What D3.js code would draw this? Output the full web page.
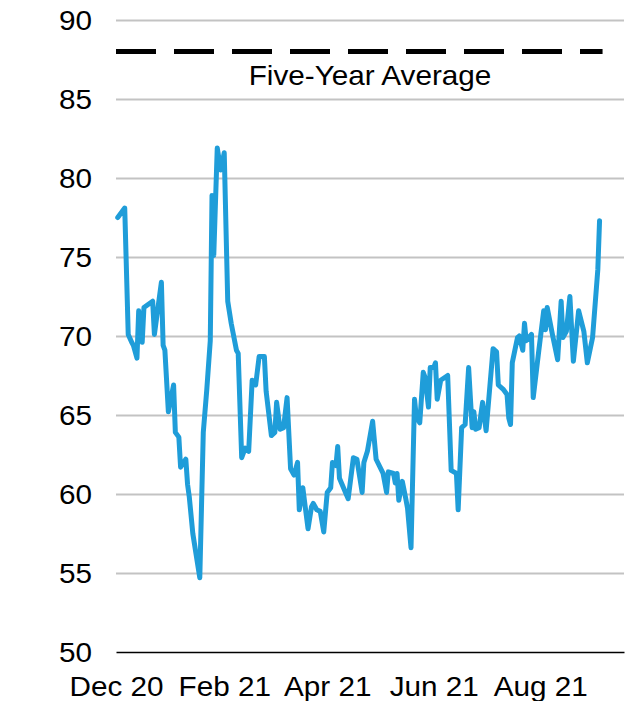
<!DOCTYPE html>
<html>
<head>
<meta charset="utf-8">
<script src="https://cdn.jsdelivr.net/npm/d3@7"></script>
<style>
body { margin: 0; background: #fff; }
text { font-family: "Liberation Sans", Arial, sans-serif; }
</style>
</head>
<body>
<div id="canvas"></div>
<script>
// ----------------------------------------------------------
// DATA -----------------------------------------------------
// ----------------------------------------------------------
var dates = [
"2020-12-02","2020-12-06","2020-12-08","2020-12-10","2020-12-11","2020-12-13","2020-12-14","2020-12-16","2020-12-17","2020-12-22",
"2020-12-23","2020-12-27","2020-12-28","2020-12-29","2020-12-31","2021-01-03","2021-01-04","2021-01-06","2021-01-07","2021-01-10",
"2021-01-11","2021-01-12","2021-01-14","2021-01-18","2021-01-20","2021-01-22","2021-01-24","2021-01-25","2021-01-26","2021-01-28",
"2021-01-30","2021-02-01","2021-02-03","2021-02-05","2021-02-08","2021-02-09","2021-02-11","2021-02-13","2021-02-15","2021-02-17",
"2021-02-19","2021-02-21","2021-02-24","2021-02-25","2021-02-28","2021-03-02","2021-03-03","2021-03-05","2021-03-07","2021-03-09",
"2021-03-11","2021-03-13","2021-03-15","2021-03-16","2021-03-18","2021-03-21","2021-03-23","2021-03-24","2021-03-26","2021-03-28",
"2021-03-30","2021-04-01","2021-04-03","2021-04-04","2021-04-06","2021-04-07","2021-04-08","2021-04-13","2021-04-16","2021-04-18",
"2021-04-21","2021-04-22","2021-04-24","2021-04-27","2021-04-29","2021-05-03","2021-05-05","2021-05-06","2021-05-09","2021-05-10",
"2021-05-11","2021-05-12","2021-05-14","2021-05-16","2021-05-17","2021-05-19","2021-05-21","2021-05-22","2021-05-24","2021-05-26",
"2021-05-27","2021-05-29","2021-05-30","2021-06-01","2021-06-02","2021-06-03","2021-06-05","2021-06-09","2021-06-11","2021-06-14",
"2021-06-15","2021-06-17","2021-06-19","2021-06-21","2021-06-23","2021-06-24","2021-06-25","2021-06-27","2021-06-29","2021-07-01",
"2021-07-05","2021-07-07","2021-07-08","2021-07-11","2021-07-13","2021-07-14","2021-07-15","2021-07-16","2021-07-19","2021-07-20",
"2021-07-22","2021-07-23","2021-07-24","2021-07-27","2021-07-28","2021-07-31","2021-08-03","2021-08-04","2021-08-05","2021-08-08",
"2021-08-11","2021-08-13","2021-08-14","2021-08-16","2021-08-18","2021-08-20","2021-08-23","2021-08-26","2021-08-28","2021-08-31",
"2021-09-03","2021-09-04"
];
var values = [
77.5,78.1,70.1,69.6,69.4,68.6,71.6,69.6,71.8,72.2,
70.1,73.4,69.4,69.1,65.2,66.9,63.9,63.6,61.7,62.2,
60.6,59.8,57.5,54.7,63.9,66.6,69.7,78.9,75.1,81.9,
80.5,81.6,72.2,70.8,69.1,68.9,62.3,62.9,62.7,67.2,
66.9,68.7,68.7,66.5,63.7,63.9,65.8,64.1,64.2,66.1,
61.6,61.2,62.0,59.0,60.4,57.8,59.2,59.4,59.0,58.9,
57.6,60.1,60.4,62.0,61.8,63.0,61.0,59.7,62.3,62.2,
60.1,62.0,62.7,64.6,62.2,61.3,60.1,61.4,61.3,60.7,
61.3,59.6,60.8,59.7,59.1,56.6,66.0,64.9,64.5,67.7,
67.4,65.5,68.0,68.0,68.3,66.0,67.2,67.5,61.5,61.3,
59.0,64.2,64.4,68.0,64.2,65.2,64.1,64.2,65.8,64.0,
69.2,69.0,66.9,66.6,66.3,64.8,64.4,68.3,69.9,70.0,
69.1,70.8,69.7,70.1,66.1,68.9,71.6,70.4,71.8,70.1,
68.5,72.2,69.9,70.3,72.5,68.4,71.6,70.3,68.3,69.9,
74.2,77.3
];
var five_year_average = 88;
var five_year_label = "Five-Year Average";
var y_ticks = [50, 55, 60, 65, 70, 75, 80, 85, 90];
var x_ticks = ["2020-12-01","2021-02-01","2021-04-01","2021-06-01","2021-08-01"];
var x_domain = ["2020-12-01","2021-09-18"];

// ----------------------------------------------------------
// STRUCTURE ------------------------------------------------
// ----------------------------------------------------------
var W = 635, H = 701;
var left = 116, right = 624, top_ = 20, bottom = 652;
var color_line = "#1f9dd9";
var color_grid = "#c3c3c3";
var font_size = "27px";
var stretch = 1.1; // reference glyphs are a bit wider than Liberation Sans

var svg = d3.select("#canvas").append("svg")
.attr("width", W)
.attr("height", H)
.style("display", "block");

var parseDate = d3.timeParse("%Y-%m-%d");
var series = dates.map(function(d, i) { return { date: parseDate(d), value: values[i] }; });

var xScale = d3.scaleTime()
.domain(x_domain.map(parseDate))
.range([left, right]);
var yScale = d3.scaleLinear()
.domain([50, 90])
.range([bottom, top_]);

// ----------------------------------------------------------
// AXES -----------------------------------------------------
// ----------------------------------------------------------
// y grid + labels
svg.append("g")
.attr("transform", "translate(" + left + ",0)")
.call(d3.axisRight(yScale).tickValues(y_ticks).tickSize(right - left).tickFormat(d3.format("d")))
.call(function(g) {
g.select(".domain").remove();
g.selectAll(".tick line").attr("stroke", color_grid).attr("stroke-width", 2);
g.selectAll(".tick:first-of-type line").remove();
g.selectAll(".tick text")
.attr("x", 0)
.attr("dy", "0.35em")
.attr("transform", "translate(-24,0) scale(" + stretch + ",1)")
.attr("text-anchor", "end")
.attr("fill", "#000")
.style("font-size", font_size)
.style("font-family", "Liberation Sans, Arial, sans-serif");
});

// x axis
svg.append("g")
.attr("transform", "translate(0," + bottom + ")")
.call(d3.axisBottom(xScale).tickValues(x_ticks.map(parseDate)).tickSize(0).tickFormat(d3.timeFormat("%b %y")))
.call(function(g) {
g.select(".domain").attr("stroke", "#000").attr("stroke-width", 1.6);
g.selectAll(".tick text")
.attr("y", 44)
.attr("dy", 0)
.attr("transform", "scale(" + stretch + ",1)")
.attr("fill", "#000")
.style("font-size", font_size)
.style("font-family", "Liberation Sans, Arial, sans-serif");
});

// ----------------------------------------------------------
// GFX ------------------------------------------------------
// ----------------------------------------------------------
// five-year average
svg.append("line")
.attr("x1", left)
.attr("x2", xScale(parseDate(dates[dates.length - 1])) + 3)
.attr("y1", yScale(five_year_average))
.attr("y2", yScale(five_year_average))
.attr("stroke", "#000")
.attr("stroke-width", 5)
.attr("stroke-dasharray", "40,18");

svg.append("text")
.attr("transform", "translate(370," + (yScale(five_year_average) + 33) + ") scale(" + stretch + ",1)")
.attr("text-anchor", "middle")
.style("font-size", font_size)
.text(five_year_label);

// series line
svg.append("path")
.datum(series)
.attr("fill", "none")
.attr("stroke", color_line)
.attr("stroke-width", 5)
.attr("stroke-linejoin", "round")
.attr("stroke-linecap", "round")
.attr("d", d3.line()
.x(function(d) { return xScale(d.date); })
.y(function(d) { return yScale(d.value); }));
</script>
</body>
</html>
